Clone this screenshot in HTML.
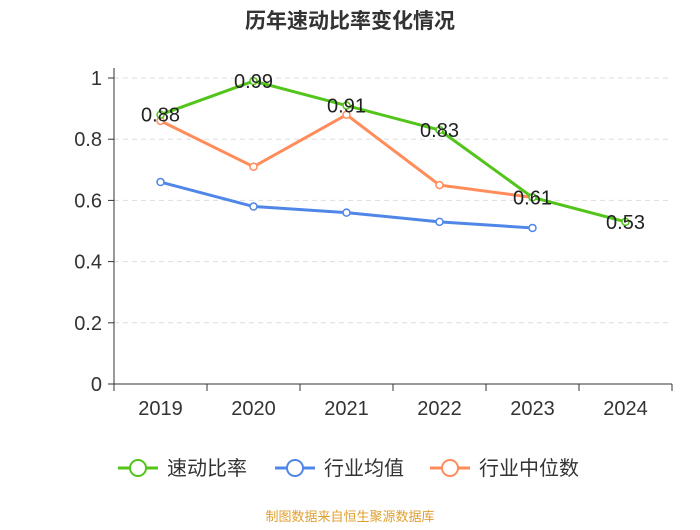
<!DOCTYPE html>
<html><head><meta charset="utf-8"><style>
body{margin:0;background:#fff;}
svg text{font-family:"Liberation Sans","Noto Sans CJK SC",sans-serif;}
</style></head><body>
<svg id="chart" width="700" height="525" viewBox="0 0 700 525" xmlns="http://www.w3.org/2000/svg">
<text x="350" y="28" text-anchor="middle" font-size="21" font-weight="bold" fill="#333">历年速动比率变化情况</text>
<g id="grid"></g><g id="axes"></g><g id="series"></g>
<g id="legend"></g>
<text x="350" y="521" text-anchor="middle" font-size="13" fill="#e0a030">制图数据来自恒生聚源数据库</text>
</svg>
<script>
const categories=["2019","2020","2021","2022","2023","2024"];
const quickRatio=[0.88,0.99,0.91,0.83,0.61,0.53];
const industryMean=[0.66,0.58,0.56,0.53,0.51];
const industryMedian=[0.86,0.71,0.88,0.65,0.61];
const yTicks=[0,0.2,0.4,0.6,0.8,1];
const yTickLabels=["0","0.2","0.4","0.6","0.8","1"];
const NS="http://www.w3.org/2000/svg";
const x0=114,x1=672,y0=384,y1=78,step=(x1-x0)/categories.length;
const xs=i=>x0+step*(i+0.5);
const ys=v=>y0-(v-0)/(1-0)*(y0-y1);
function mk(t,a,p){const e=document.createElementNS(NS,t);for(const k in a)e.setAttribute(k,a[k]);p.appendChild(e);return e;}
const grid=document.getElementById('grid'),axes=document.getElementById('axes'),ser=document.getElementById('series'),leg=document.getElementById('legend');
yTicks.forEach((v,i)=>{
 if(v>0){const l=mk('line',{x1:x0,x2:x1,y1:ys(v),y2:ys(v),stroke:'#ddd','stroke-dasharray':'5,4'},grid);
 
 }
 const t=mk('text',{x:x0-12,y:ys(v)+7,'text-anchor':'end','font-size':'20',fill:'#333'},axes);t.textContent=yTickLabels[i];
 
 
 const tk=mk('line',{x1:x0-6,x2:x0,y1:ys(v),y2:ys(v),stroke:'#333'},axes);
 
 
});
const ya=mk('line',{x1:x0,x2:x0,y1:y1-10,y2:y0,stroke:'#333'},axes);


const xa=mk('line',{x1:x0,x2:x1,y1:y0,y2:y0,stroke:'#333'},axes);


for(let i=0;i<=categories.length;i++){const tk=mk('line',{x1:x0+step*i,x2:x0+step*i,y1:y0,y2:y0+7,stroke:'#333'},axes);
 
 }
categories.forEach((c,i)=>{const t=mk('text',{x:xs(i),y:y0+31,'text-anchor':'middle','font-size':'20',fill:'#333'},axes);t.textContent=c;
 
 });
function series(data,color,name,labels){
 const g=mk('g',{},ser);
 
 
 const pl=mk('polyline',{points:data.map((v,i)=>xs(i)+','+ys(v)).join(' '),fill:'none',stroke:color,'stroke-width':3},g);
 
 
 data.forEach((v,i)=>{const c=mk('circle',{cx:xs(i),cy:ys(v),r:3.5,fill:'#fff',stroke:color,'stroke-width':1.5},g);
  
  
  if(labels){const t=mk('text',{x:xs(i),y:ys(v)+7,'text-anchor':'middle','font-size':'20',fill:'#222'},g);t.textContent=v.toFixed(2);
   
   }
 });
}
series(industryMedian,'#ff8c5a','industry-median-series',false);
series(industryMean,'#4f86e8','industry-mean-series',false);
series(quickRatio,'#52c41a','quick-ratio-series',true);
const items=[["速动比率","#52c41a",118],["行业均值","#4f86e8",275],["行业中位数","#ff8c5a",430]];
items.forEach(it=>{const g=mk('g',{},leg);
 
 
 mk('line',{x1:it[2],x2:it[2]+40,y1:468,y2:468,stroke:it[1],'stroke-width':3},g);
 mk('circle',{cx:it[2]+20,cy:468,r:8,fill:'#fff',stroke:it[1],'stroke-width':2},g);
 const t=mk('text',{x:it[2]+49,y:475,'font-size':'20',fill:'#333'},g);t.textContent=it[0];
});
</script>
</body></html>
